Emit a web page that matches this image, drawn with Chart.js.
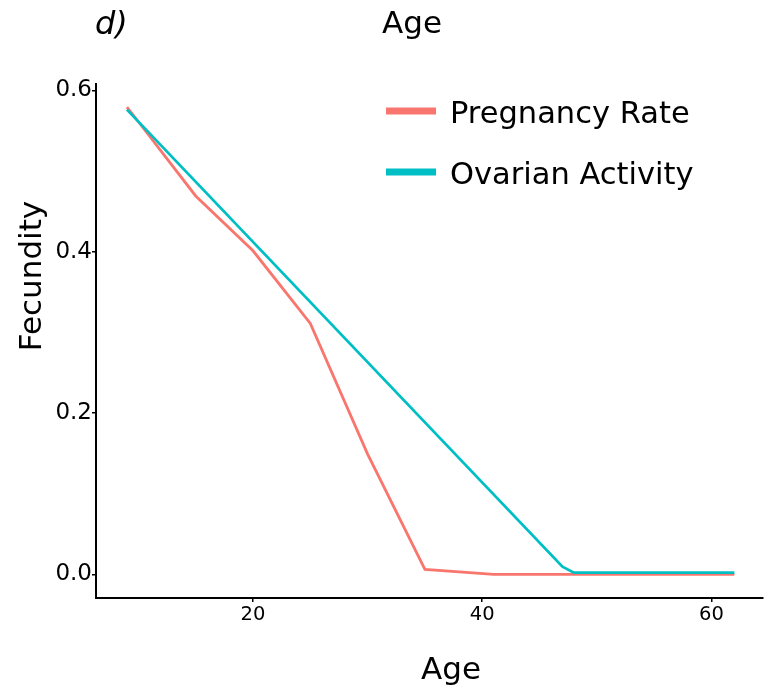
<!DOCTYPE html>
<html>
<head>
<meta charset="utf-8">
<script src="https://cdn.jsdelivr.net/npm/chart.js@4/dist/chart.umd.min.js"></script>
<style>
  html, body { margin: 0; padding: 0; background: #fff; }
  #myChart { display: block; }
</style>
</head>
<body>
<canvas id="myChart" width="766" height="685"></canvas>
<script>
// values
const pregnancyAge = [9, 10, 15, 20, 25, 30, 35, 41, 62];
const pregnancyRate = [0.579, 0.561, 0.469, 0.401, 0.311, 0.149, 0.006, 0.0, 0.0];
const ovarianAge = [9, 47, 48, 62];
const ovarianActivity = [0.576, 0.0094, 0.002, 0.002];
const xTicks = [20, 40, 60];
const yTicks = [0, 0.2, 0.4, 0.6];

const font = "'DejaVu Sans', sans-serif";

function toPoints(xs, ys) {
    return xs.map((x, i) => ({ x: x, y: ys[i] }));
}

// titles, panel tag and legend drawn on top
const textPlugin = {
    id: 'texts',
    afterDraw(chart) {
        const c = chart.ctx;
        c.save();
        c.fillStyle = '#000';
        c.textBaseline = 'alphabetic';

        c.font = 'italic 32px ' + font;
        c.textAlign = 'left';
        c.fillText('d)', 95, 34);

        c.font = '31px ' + font;
        c.textAlign = 'center';
        c.fillText('Age', 412, 33);
        c.fillText('Age', 451, 679);

        c.save();
        c.translate(41, 276);
        c.rotate(-Math.PI / 2);
        c.fillText('Fecundity', 0, 0);
        c.restore();

        // legend
        const legendOrder = [1, 0];
        c.font = '30.5px ' + font;
        c.textAlign = 'left';
        legendOrder.forEach((di, i) => {
            const ds = chart.data.datasets[di];
            const cy = 111 + i * 61;
            c.fillStyle = ds.borderColor;
            c.fillRect(386, cy - 3.5, 50, 7);
            c.fillStyle = '#000';
            c.fillText(ds.label, 450, cy + 11.5);
        });
        c.restore();
    }
};

const ctx = document.getElementById('myChart');

new Chart(ctx, {
    type: 'line',
    data: {
        datasets: [
            {
                label: 'Ovarian Activity',
                data: toPoints(ovarianAge, ovarianActivity),
                borderWidth: 2.8,
                borderColor: "#00BFC4",
                backgroundColor: "#00BFC4",
                pointRadius: 0,
                tension: 0,
                order: 0,
            },
            {
                label: 'Pregnancy Rate',
                data: toPoints(pregnancyAge, pregnancyRate),
                borderWidth: 2.8,
                borderColor: "#F8766D",
                backgroundColor: "#F8766D",
                pointRadius: 0,
                tension: 0,
                order: 1,
            },
        ]
    },
    options: {
        responsive: false,
        animation: false,
        devicePixelRatio: 1,
        layout: { padding: { top: 84, right: 3, left: 0, bottom: 0 } },
        plugins: {
            legend: { display: false },
            tooltip: { enabled: false },
            title: { display: false }
        },
        scales: {
            x: {
                type: 'linear',
                min: 6.3,
                max: 64.5,
                afterBuildTicks: (scale) => { scale.ticks = xTicks.map(v => ({ value: v })); },
                afterFit: (scale) => { scale.height = 87; },
                ticks: {
                    color: '#000',
                    font: { family: font, size: 19.5 },
                    padding: 1,
                    maxRotation: 0,
                    callback: (v) => String(v)
                },
                grid: { drawOnChartArea: false, drawTicks: true, tickLength: 4, color: '#000', lineWidth: 1.5 },
                border: { display: true, color: '#000', width: 2 }
            },
            y: {
                min: -0.0294,
                max: 0.6078,
                afterBuildTicks: (scale) => { scale.ticks = yTicks.map(v => ({ value: v })); },
                afterFit: (scale) => { scale.width = 96; },
                ticks: {
                    color: '#000',
                    font: { family: font, size: 23 },
                    padding: 0,
                    callback: (v) => v.toFixed(1)
                },
                grid: { drawOnChartArea: false, drawTicks: true, tickLength: 4, color: '#000', lineWidth: 1.5 },
                border: { display: true, color: '#000', width: 2 }
            }
        }
    },
    plugins: [textPlugin]
});
</script>
</body>
</html>
